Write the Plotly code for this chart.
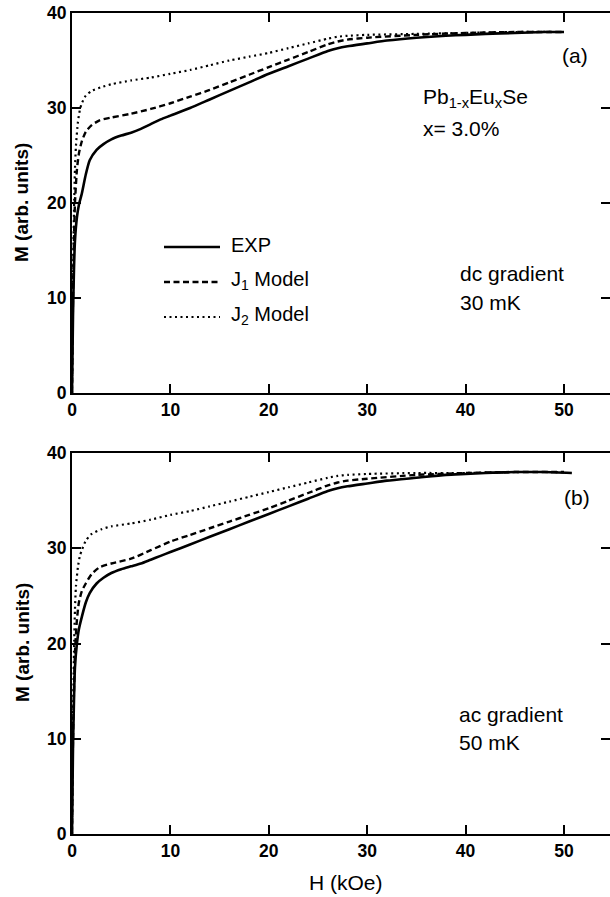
import plotly.graph_objects as go

# ---------------- data ----------------
# Panel (a): dc gradient, 30 mK
Ha_exp = [0, 0.1, 0.2, 0.3, 0.5, 0.7, 1.0, 1.4, 1.8, 2.5, 3.2, 4, 5, 6, 7, 8, 9, 10, 12, 14, 16, 18, 20, 22, 24, 26, 27, 28, 30, 32, 35, 38, 40, 42, 45, 48, 50]
Ma_exp = [0, 8, 13, 16, 18.5, 19.8, 21, 23, 24.5, 25.6, 26.2, 26.7, 27.1, 27.4, 27.8, 28.3, 28.8, 29.2, 30.0, 30.9, 31.8, 32.7, 33.6, 34.4, 35.2, 36.0, 36.3, 36.5, 36.8, 37.1, 37.4, 37.6, 37.7, 37.8, 37.9, 38.0, 38.0]
Ha_j1 = [0, 0.1, 0.2, 0.3, 0.5, 0.7, 1.0, 1.4, 2, 2.8, 4, 6, 8, 10, 12, 14, 16, 18, 20, 22, 24, 26, 27, 28, 30, 35, 40, 45, 50]
Ma_j1 = [0, 10, 16, 20, 23.5, 25.2, 26.5, 27.5, 28.2, 28.7, 29.0, 29.4, 29.9, 30.5, 31.2, 31.9, 32.7, 33.5, 34.3, 35.1, 35.9, 36.7, 37.0, 37.2, 37.4, 37.7, 37.9, 38.0, 38.0]
Ha_j2 = [0, 0.1, 0.2, 0.3, 0.4, 0.6, 0.8, 1.0, 1.4, 2, 3, 4, 6, 8, 10, 12, 14, 16, 18, 20, 22, 24, 26, 27, 28, 30, 35, 40, 45, 50]
Ma_j2 = [0, 12, 19, 23.5, 26, 28.5, 29.8, 30.5, 31.3, 31.8, 32.2, 32.5, 32.9, 33.2, 33.6, 34.0, 34.5, 35.0, 35.4, 35.8, 36.3, 36.8, 37.3, 37.5, 37.6, 37.7, 37.8, 37.9, 38.0, 38.0]

# Panel (b): ac gradient, 50 mK
Hb_exp = [0, 0.1, 0.2, 0.3, 0.5, 0.7, 1.0, 1.4, 1.8, 2.5, 3.2, 4, 5, 6, 7, 8, 9, 10, 12, 14, 16, 18, 20, 22, 24, 26, 27, 28, 30, 32, 35, 38, 40, 42, 45, 48, 50.8]
Mb_exp = [0, 9, 14, 17.5, 20, 21.5, 22.8, 24.3, 25.3, 26.3, 26.9, 27.4, 27.8, 28.1, 28.4, 28.8, 29.2, 29.6, 30.4, 31.2, 32.0, 32.8, 33.6, 34.4, 35.2, 36.0, 36.3, 36.5, 36.8, 37.1, 37.4, 37.7, 37.8, 37.9, 38.0, 38.0, 37.9]
Hb_j1 = [0, 0.1, 0.2, 0.3, 0.5, 0.7, 1.0, 1.4, 2, 2.8, 4, 6, 8, 10, 12, 14, 16, 18, 20, 22, 24, 26, 27, 28, 30, 35, 40, 45, 50]
Mb_j1 = [0, 10, 15, 19, 22.5, 24.3, 25.5, 26.3, 27.3, 28.0, 28.4, 28.9, 29.8, 30.7, 31.4, 32.1, 32.8, 33.5, 34.2, 35.0, 35.8, 36.6, 36.9, 37.1, 37.3, 37.7, 37.9, 38.0, 38.0]
Hb_j2 = [0, 0.1, 0.2, 0.3, 0.4, 0.6, 0.8, 1.0, 1.4, 2, 3, 4, 6, 8, 10, 12, 14, 16, 18, 20, 22, 24, 26, 27, 28, 30, 35, 40, 45, 50]
Mb_j2 = [0, 12, 19, 23.5, 26, 28, 29.2, 29.8, 30.8, 31.5, 32.0, 32.3, 32.6, 33.0, 33.5, 33.9, 34.4, 34.9, 35.4, 35.9, 36.4, 36.9, 37.4, 37.6, 37.7, 37.8, 37.9, 37.9, 38.0, 38.0]

series_names = ["EXP", "J<sub>1</sub> Model", "J<sub>2</sub> Model"]
x_ticks = [0, 10, 20, 30, 40, 50]
y_ticks = [0, 10, 20, 30, 40]

# ---------------- layout helpers ----------------
W, H = 610, 897
ML, MR, MT, MB = 72, 0, 13, 63
PW, PH = W - ML - MR, H - MT - MB


def px(xp):
    return (xp - ML) / PW


def py(yp):
    return (H - MB - yp) / PH


FONT = "Liberation Sans, Arial, Helvetica, sans-serif"
styles = [dict(width=2.6, dash="solid"),
          dict(width=2.4, dash="6px,3.5px"),
          dict(width=2.2, dash="2px,3.5px")]

fig = go.Figure()
panels = [
    ("x", "y", "y3", [(Ha_exp, Ma_exp), (Ha_j1, Ma_j1), (Ha_j2, Ma_j2)]),
    ("x2", "y2", "y4", [(Hb_exp, Mb_exp), (Hb_j1, Mb_j1), (Hb_j2, Mb_j2)]),
]
for xa, ya, yr, data in panels:
    for (hx, my), st, nm in zip(data, styles, series_names):
        fig.add_trace(go.Scatter(x=hx, y=my, mode="lines", name=nm,
                                 xaxis=xa, yaxis=ya, showlegend=False,
                                 line=dict(color="black", shape="spline", smoothing=0.6, **st)))
    # empty trace so that the right-hand tick axis is drawn
    fig.add_trace(go.Scatter(x=[None], y=[None], xaxis=xa, yaxis=yr, mode="lines",
                             showlegend=False, hoverinfo="skip"))

tickfont = dict(family=FONT, size=17.5, color="black", weight="bold")
base = dict(linecolor="black", linewidth=2.2, ticks="inside", ticklen=9, tickwidth=2,
            tickcolor="black", showgrid=False, zeroline=False, tickfont=tickfont)
xr = [0, (W - MR - ML) / 9.84]
dom_a = [py(393), 1]
dom_b = [0, py(453)]
fig.update_layout(
    width=W, height=H, margin=dict(l=ML, r=MR, t=MT, b=MB),
    paper_bgcolor="white", plot_bgcolor="white",
    xaxis=dict(range=xr, tickvals=x_ticks, anchor="y", showline=True, mirror="ticks", **base),
    yaxis=dict(range=[0, 40], tickvals=y_ticks, domain=dom_a, anchor="x", showline=True, **base),
    xaxis2=dict(range=xr, tickvals=x_ticks, anchor="y2", showline=True, mirror="ticks", **base),
    yaxis2=dict(range=[0, 40], tickvals=y_ticks, domain=dom_b, anchor="x2", showline=True, **base),
    # right-hand tick marks only (the right frame line lies outside the picture)
    yaxis3=dict(range=[0, 40], tickvals=y_ticks, overlaying="y", side="right", anchor="x",
                showline=False, showticklabels=False, **base),
    yaxis4=dict(range=[0, 40], tickvals=y_ticks, overlaying="y2", side="right", anchor="x2",
                showline=False, showticklabels=False, **base),
)

txt = dict(family=FONT, size=21, color="black")
ann = []


def add_text(t, xp, yp, anchor="left", font=txt, angle=0):
    ann.append(dict(text=t, x=px(xp), y=py(yp), xref="paper", yref="paper",
                    xanchor=anchor, yanchor="middle", showarrow=False, font=font,
                    textangle=angle))


add_text("(a)", 575, 55, "center")
add_text("Pb<sub>1-x</sub>Eu<sub>x</sub>Se", 421, 98)
add_text("x= 3.0%", 421, 129)
add_text("dc gradient", 458, 273)
add_text("30 mK", 458, 302)
add_text("(b)", 577, 497, "center")
add_text("ac gradient", 457, 714)
add_text("50 mK", 457, 742)
add_text("H (kOe)", 346, 883, "center", dict(family=FONT, size=21, color="black"))
bold = dict(family=FONT, size=19, color="black", weight="bold")
add_text("M (arb. units)", 22, 203, "center", bold, -90)
add_text("M (arb. units)", 22, 643, "center", bold, -90)

# legend (panel a)
leg_y = [247, 282, 317]
legfont = dict(family=FONT, size=20, color="black")
for st, nm, ly in zip(styles, series_names, leg_y):
    fig.add_shape(type="line", xref="paper", yref="paper",
                  x0=px(164), x1=px(220), y0=py(ly), y1=py(ly),
                  line=dict(color="black", **st))
    add_text(nm, 229, ly - 2, font=legfont)

fig.update_layout(annotations=ann)
fig.write_html("out.html")
